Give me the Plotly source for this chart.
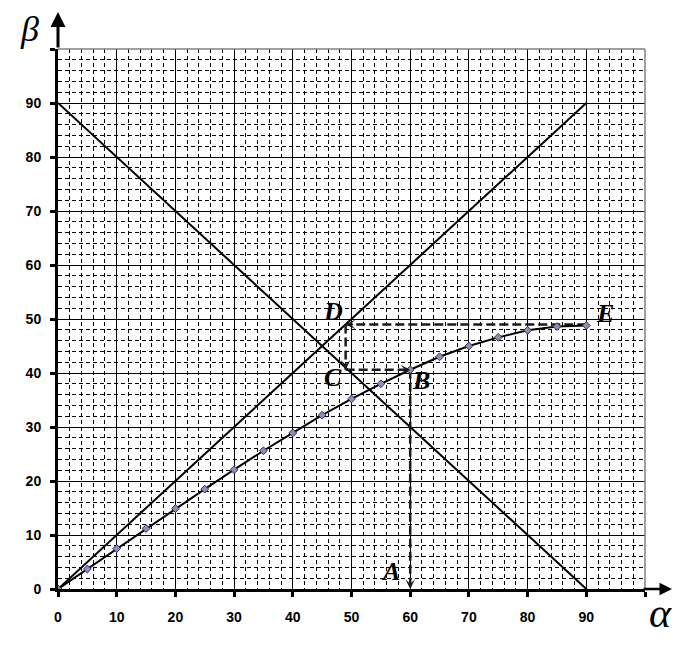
import plotly.graph_objects as go

# ---- data ----
alpha = [0, 5, 10, 15, 20, 25, 30, 35, 40, 45, 50, 55, 60, 65, 70, 75, 80, 85, 90]
beta = [0, 3.7, 7.5, 11.2, 14.9, 18.5, 22.1, 25.6, 28.9, 32.2, 35.2, 38.0, 40.6, 43.0, 45.0, 46.6, 47.9, 48.6, 48.8]

line_x = [0, 90]
line_up = [0, 90]
line_down = [90, 0]

tick_vals = [0, 10, 20, 30, 40, 50, 60, 70, 80, 90, 100]
tick_text = ["0", "10", "20", "30", "40", "50", "60", "70", "80", "90", ""]

# construction points
A = (60, 0)
B = (60, 40.6)
C = (49, 40.6)
D = (49, 49)
E = (90, 49)
point_labels = ["A", "B", "C", "D", "E"]
label_pos = [(56.6, 3.3), (61.9, 38.7), (46.9, 39.1), (46.9, 51.3), (93.2, 51.1)]

# arrows: (from, to)
arrows = [(B, A), (C, B), (D, C), (E, D)]

fig = go.Figure()

fig.add_trace(go.Scatter(x=line_x, y=line_up, mode="lines",
                         line=dict(color="black", width=2), hoverinfo="skip"))
fig.add_trace(go.Scatter(x=line_x, y=line_down, mode="lines",
                         line=dict(color="black", width=2), hoverinfo="skip"))

for (p, q) in arrows:
    fig.add_trace(go.Scatter(x=[p[0], q[0]], y=[p[1], q[1]], mode="lines",
                             line=dict(color="#1a1a1a", width=2.5, dash="9px,4px"),
                             hoverinfo="skip"))

fig.add_trace(go.Scatter(x=alpha, y=beta, mode="lines+markers",
                         line=dict(color="black", width=2),
                         marker=dict(symbol="diamond", size=6, color="#8f8fa8",
                                     line=dict(color="#2a2a8a", width=1))))

annotations = []
for (p, q) in arrows:
    dx = q[0] - p[0]
    dy = q[1] - p[1]
    n = (dx ** 2 + dy ** 2) ** 0.5
    tx = q[0] - dx / n * 1.5
    ty = q[1] - dy / n * 1.5
    annotations.append(dict(x=q[0], y=q[1], ax=tx, ay=ty, xref="x", yref="y",
                            axref="x", ayref="y", showarrow=True, arrowhead=3,
                            arrowsize=1.1, arrowwidth=1.5, arrowcolor="#1a1a1a", text=""))

for lab, (lx, ly) in zip(point_labels, label_pos):
    annotations.append(dict(x=lx, y=ly, xref="x", yref="y", text="<b><i>" + lab + "</i></b>",
                            showarrow=False, xanchor="center", yanchor="middle",
                            font=dict(family="Liberation Serif, Times New Roman, serif",
                                      size=26, color="black")))

# axis arrows
annotations.append(dict(x=0, y=1.0685, xref="paper", yref="paper", ax=0, ay=37,
                        showarrow=True, arrowhead=2, arrowsize=1.0, arrowwidth=3,
                        arrowcolor="black", text=""))
annotations.append(dict(x=1.046, y=0, xref="paper", yref="paper", ax=-30, ay=0,
                        showarrow=True, arrowhead=2, arrowsize=1.0, arrowwidth=2.5,
                        arrowcolor="black", text=""))
# axis titles
annotations.append(dict(x=-0.049, y=1.0759, xref="paper", yref="paper",
                        text="<i>β</i>", showarrow=False, xanchor="center", yanchor="top",
                        borderpad=0,
                        font=dict(family="Liberation Serif, Times New Roman, serif",
                                  size=36, color="black")))
annotations.append(dict(x=1.0256, y=-0.0444, xref="paper", yref="paper",
                        text="<i>α</i>", showarrow=False, xanchor="center", yanchor="middle",
                        font=dict(family="Liberation Serif, Times New Roman, serif",
                                  size=42, color="black")))

axis_common = dict(
    range=[0, 100], tickvals=tick_vals, ticktext=tick_text,
    showgrid=True, gridcolor="black", gridwidth=1,
    showline=True, linecolor="black", linewidth=3,
    ticks="outside", ticklen=5, tickwidth=3, tickcolor="black",
    zeroline=False, fixedrange=True,
    tickfont=dict(family="Liberation Sans, Arial, sans-serif", size=14,
                  color="black", weight="bold"),
    minor=dict(dtick=2, tick0=0, showgrid=True, gridcolor="black", gridwidth=1,
               griddash="4px,3px", ticks=""),
)

fig.update_layout(
    width=687, height=639, autosize=False,
    margin=dict(l=50, r=50, t=41, b=58),
    plot_bgcolor="white", paper_bgcolor="white",
    showlegend=False,
    xaxis=dict(**axis_common, ticklabelstandoff=8),
    yaxis=dict(**axis_common, ticklabelstandoff=6),
    annotations=annotations,
    shapes=[
        dict(type="line", xref="paper", yref="paper", x0=0, y0=1, x1=1, y1=1,
             line=dict(color="#808080", width=1.5), layer="above"),
        dict(type="line", xref="paper", yref="paper", x0=1, y0=0, x1=1, y1=1,
             line=dict(color="#808080", width=1.5), layer="above"),
    ],
)

fig.write_html("out.html")
